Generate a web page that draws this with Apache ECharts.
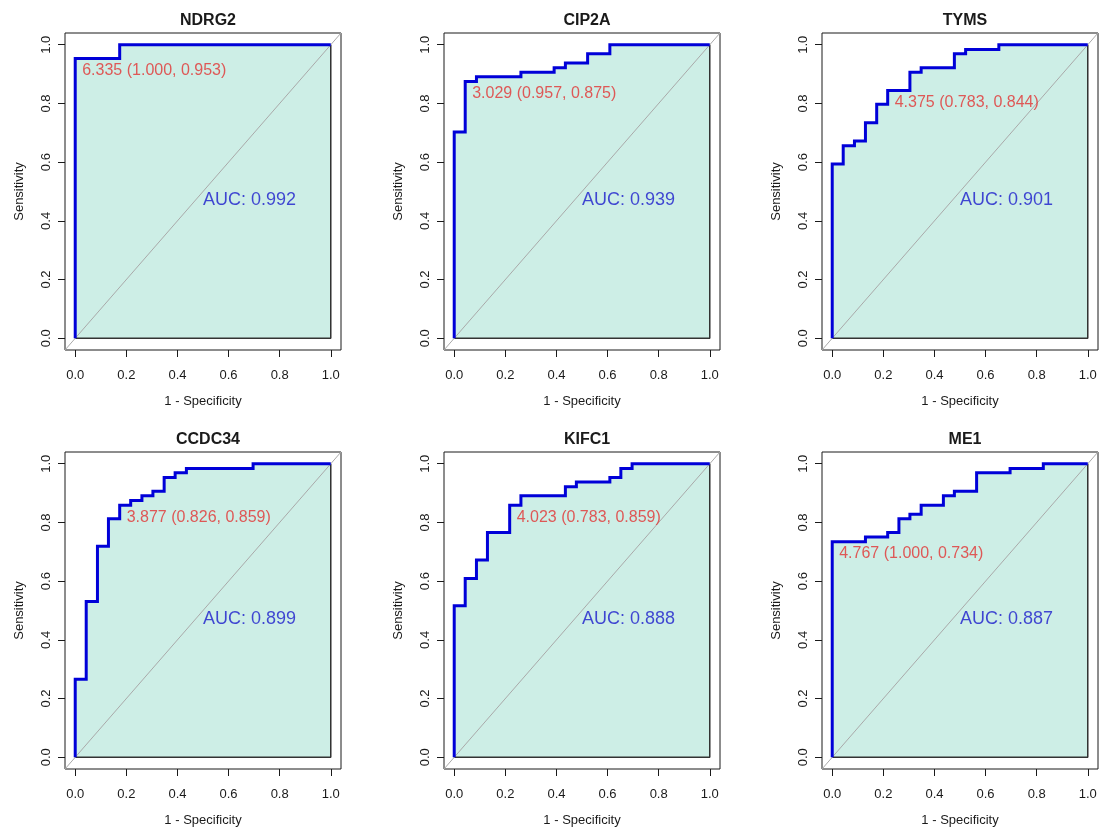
<!DOCTYPE html>
<html>
<head>
<meta charset="utf-8">
<script src="https://cdn.jsdelivr.net/npm/echarts@6/dist/echarts.min.js"></script>
<style>
  html, body { margin: 0; padding: 0; background: #ffffff; }
  #chart { width: 1100px; height: 831px; }
</style>
</head>
<body>
<div id="chart"></div>
<script>
// ---- data ----
const genes = ['NDRG2', 'CIP2A', 'TYMS', 'CCDC34', 'KIFC1', 'ME1'];

// Step curves: x (1 - specificity) where the curve rises, and the sensitivity level reached there
const ndrg2StepX  = [0, 0.174];
const ndrg2StepY  = [0.953, 1.000];
const cip2aStepX  = [0, 0.043, 0.087, 0.261, 0.391, 0.435, 0.522, 0.609];
const cip2aStepY  = [0.703, 0.875, 0.891, 0.906, 0.922, 0.938, 0.969, 1.000];
const tymsStepX   = [0, 0.043, 0.087, 0.130, 0.174, 0.217, 0.304, 0.348, 0.478, 0.522, 0.652];
const tymsStepY   = [0.594, 0.656, 0.672, 0.734, 0.797, 0.844, 0.906, 0.922, 0.969, 0.984, 1.000];
const ccdc34StepX = [0, 0.043, 0.087, 0.130, 0.174, 0.217, 0.261, 0.304, 0.348, 0.391, 0.435, 0.696];
const ccdc34StepY = [0.266, 0.531, 0.719, 0.813, 0.859, 0.875, 0.891, 0.906, 0.953, 0.969, 0.984, 1.000];
const kifc1StepX  = [0, 0.043, 0.087, 0.130, 0.217, 0.261, 0.435, 0.478, 0.609, 0.652, 0.696];
const kifc1StepY  = [0.516, 0.609, 0.672, 0.766, 0.859, 0.891, 0.922, 0.938, 0.953, 0.984, 1.000];
const me1StepX    = [0, 0.130, 0.217, 0.261, 0.304, 0.348, 0.435, 0.478, 0.565, 0.696, 0.826];
const me1StepY    = [0.734, 0.750, 0.766, 0.813, 0.828, 0.859, 0.891, 0.906, 0.969, 0.984, 1.000];

const aucValues            = [0.992, 0.939, 0.901, 0.899, 0.888, 0.887];
const thresholdValues      = [6.335, 3.029, 4.375, 3.877, 4.023, 4.767];
const thresholdSpecificity = [1.000, 0.957, 0.783, 0.826, 0.783, 1.000];
const thresholdSensitivity = [0.953, 0.875, 0.844, 0.859, 0.859, 0.734];

const tickValues = [0, 0.2, 0.4, 0.6, 0.8, 1.0];
const xAxisTitle = '1 - Specificity';
const yAxisTitle = 'Sensitivity';

// ---- build ----
const stepXs = [ndrg2StepX, cip2aStepX, tymsStepX, ccdc34StepX, kifc1StepX, me1StepX];
const stepYs = [ndrg2StepY, cip2aStepY, tymsStepY, ccdc34StepY, kifc1StepY, me1StepY];

function buildCurve(xs, ys) {
  const pts = [[0, 0]];
  let prev = 0;
  for (let i = 0; i < xs.length; i++) {
    pts.push([xs[i], prev]);
    pts.push([xs[i], ys[i]]);
    prev = ys[i];
  }
  pts.push([1, prev]);
  return pts;
}

const FONT = '"Liberation Sans", Arial, Helvetica, sans-serif';
const colLeft = [65, 444, 822];
const rowTop = [33, 452];
const boxW = 276, boxH = 317;
const PAD = 0.04;

const grids = [], xAxes = [], yAxes = [], series = [], titles = [];

genes.forEach((g, i) => {
  const c = i % 3, r = Math.floor(i / 3);
  grids.push({
    left: colLeft[c], top: rowTop[r], width: boxW, height: boxH,
    show: true, borderColor: '#1a1a1a', borderWidth: 1, backgroundColor: 'transparent'
  });
  titles.push({
    text: g, left: colLeft[c] + boxW / 2, top: rowTop[r] - 25, textAlign: 'center',
    textStyle: { fontFamily: FONT, fontSize: 16, fontWeight: 'bold', color: '#1a1a1a' }
  });
  const common = {
    type: 'value', min: -PAD, max: 1 + PAD, gridIndex: i,
    splitLine: { show: false },
    axisLine: { show: false, onZero: false },
    axisTick: { show: true, inside: false, length: 7, customValues: tickValues, lineStyle: { color: '#1a1a1a', width: 1 } },
    nameLocation: 'middle',
    nameTextStyle: { fontFamily: FONT, fontSize: 13, color: '#1a1a1a' }
  };
  xAxes.push(Object.assign({}, common, {
    name: xAxisTitle, nameGap: 45,
    axisLabel: { customValues: tickValues, formatter: v => v.toFixed(1), margin: 19, fontFamily: FONT, fontSize: 13, color: '#1a1a1a' }
  }));
  yAxes.push(Object.assign({}, common, {
    name: yAxisTitle, nameGap: 39,
    axisLabel: { customValues: tickValues, formatter: v => v.toFixed(1), rotate: 90, margin: 12, fontFamily: FONT, fontSize: 13, color: '#1a1a1a' }
  }));

  const curve = buildCurve(stepXs[i], stepYs[i]);
  // area under the curve
  series.push({
    type: 'line', xAxisIndex: i, yAxisIndex: i, data: curve, symbol: 'none', silent: true, z: 1,
    lineStyle: { width: 0, opacity: 0 }, areaStyle: { color: '#cdeee6', opacity: 1, origin: 0 }
  });
  // polygon border (right and bottom)
  series.push({
    type: 'line', xAxisIndex: i, yAxisIndex: i, data: [[0, 0], [1, 0], [1, 1]], symbol: 'none', silent: true, z: 2,
    lineStyle: { color: '#333333', width: 1.5 }
  });
  // diagonal reference line
  series.push({
    type: 'line', xAxisIndex: i, yAxisIndex: i, data: [[-PAD, -PAD], [1 + PAD, 1 + PAD]], symbol: 'none', silent: true, z: 3,
    lineStyle: { color: '#a9a9a9', width: 1 }
  });
  // ROC curve
  series.push({
    type: 'line', xAxisIndex: i, yAxisIndex: i, data: curve, symbol: 'none', silent: true, z: 4,
    lineStyle: { color: '#0000d8', width: 3, join: 'miter' }
  });
  // AUC text
  series.push({
    type: 'scatter', xAxisIndex: i, yAxisIndex: i, data: [[0.5, 0.5]], symbolSize: 1, silent: true, z: 5,
    itemStyle: { color: 'rgba(0,0,0,0)' },
    label: { show: true, position: 'inside', align: 'left', verticalAlign: 'middle', offset: [0, 9],
      formatter: () => 'AUC: ' + aucValues[i].toFixed(3), fontFamily: FONT, fontSize: 18, color: '#1a1acc' }
  });
  // threshold text
  series.push({
    type: 'scatter', xAxisIndex: i, yAxisIndex: i,
    data: [[1 - thresholdSpecificity[i], thresholdSensitivity[i]]], symbolSize: 1, silent: true, z: 5,
    itemStyle: { color: 'rgba(0,0,0,0)' },
    label: { show: true, position: 'inside', align: 'left', verticalAlign: 'middle', offset: [7, 12],
      formatter: () => thresholdValues[i].toFixed(3) + ' (' + thresholdSpecificity[i].toFixed(3) + ', ' + thresholdSensitivity[i].toFixed(3) + ')',
      fontFamily: FONT, fontSize: 16, color: '#e23232' }
  });
});

const chart = echarts.init(document.getElementById('chart'), null, { renderer: 'canvas' });
chart.setOption({
  backgroundColor: '#ffffff',
  animation: false,
  title: titles,
  grid: grids,
  xAxis: xAxes,
  yAxis: yAxes,
  series: series
});
</script>
</body>
</html>
